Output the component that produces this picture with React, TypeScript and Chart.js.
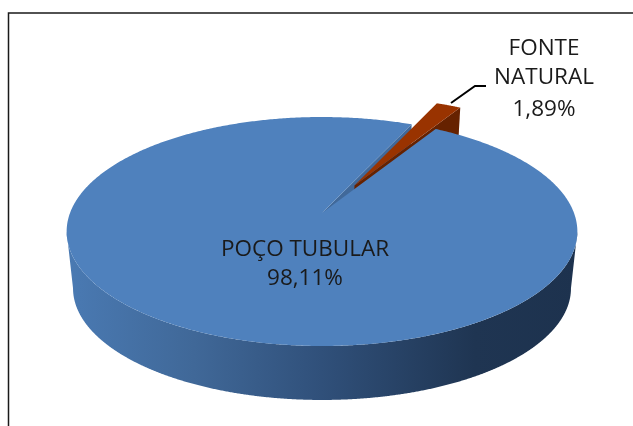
import { useEffect, useRef } from "react";
import { Chart, registerables } from "chart.js";

Chart.register(...registerables);

const categories = ["POÇO TUBULAR", "FONTE NATURAL"];
const seriesValues = [98.11, 1.89];
const valueLabels = ["98,11%", "1,89%"];
const sliceColors = ["#4F81BD", "#993300"];
const FONT = "22.5px 'Open Sans', Lato, sans-serif";
const TEXT = "#1a1a1a";

// Perspective view of the pie's plane
const CX = 322, Y0 = 213, A = 252, B = 111.5, PERSP = 0.1616;
const DEPTH_Y = 57.3, DEPTH_SCALE = 0.975;

type P = [number, number];
function project(u: number, v: number, low: boolean): P {
  const w = 1 - PERSP * v;
  const s = low ? DEPTH_SCALE : 1;
  return [CX + (s * A * u) / w, Y0 + (low ? DEPTH_Y : 0) + (s * B * v) / w];
}
function poly(ctx: CanvasRenderingContext2D, pts: P[]) {
  ctx.beginPath();
  pts.forEach((p, i) => (i ? ctx.lineTo(p[0], p[1]) : ctx.moveTo(p[0], p[1])));
  ctx.closePath();
}
function rim(a0: number, a1: number, ou: number, ov: number, low: boolean, n = 720): P[] {
  const out: P[] = [];
  for (let i = 0; i <= n; i++) {
    const t = a0 + ((a1 - a0) * i) / n;
    out.push(project(ou + Math.cos(t), ov + Math.sin(t), low));
  }
  return out;
}

const pie3d = {
  id: "pie3d",
  beforeDatasetsDraw(chart: any) {
    const ctx: CanvasRenderingContext2D = chart.ctx;
    const arcs = chart.getDatasetMeta(0).data;
    const colors = chart.data.datasets[0].backgroundColor;
    const geom = arcs.map((arc: any) => {
      const { startAngle, endAngle, outerRadius } = arc.getProps(
        ["startAngle", "endAngle", "outerRadius"],
        true
      );
      const mid = (startAngle + endAngle) / 2;
      const d = (arc.options.offset || 0) / outerRadius;
      return { startAngle, endAngle, ou: d * Math.cos(mid), ov: d * Math.sin(mid) };
    });
    const big = geom[0];
    const small = geom[1];
    ctx.save();

    // Blue front wall, from the widest point on the left round the front to the right
    const aL = Math.PI - Math.asin(PERSP);
    const aR = Math.asin(PERSP);
    const topFront = rim(aR, aL, 0, 0, false);
    const lowFront = rim(aL, aR, 0, 0, true);
    const grad = ctx.createLinearGradient(66, 0, 577, 0);
    grad.addColorStop(0, "#4A7AB3");
    grad.addColorStop(0.25, "#406898");
    grad.addColorStop(0.5, "#30507A");
    grad.addColorStop(0.8, "#1F3552");
    grad.addColorStop(1, "#1D324E");
    poly(ctx, [...topFront, ...lowFront]);
    ctx.fillStyle = grad;
    ctx.fill();

    // Inner wall of the blue slice, seen through the gap
    const holeA = small.startAngle;
    poly(ctx, [
      project(0, 0, false),
      project(Math.cos(holeA), Math.sin(holeA), false),
      project(Math.cos(holeA), Math.sin(holeA), true),
      project(0, 0, true),
    ]);
    ctx.fillStyle = "#41699A";
    ctx.fill();

    // Side wall of the pulled-out slice
    const eA = small.endAngle;
    poly(ctx, [
      project(small.ou, small.ov, false),
      project(small.ou + Math.cos(eA), small.ov + Math.sin(eA), false),
      project(small.ou + Math.cos(eA), small.ov + Math.sin(eA), true),
      project(small.ou, small.ov, true),
    ]);
    ctx.fillStyle = "#662200";
    ctx.fill();

    // Top face of the pulled-out slice
    poly(ctx, [
      project(small.ou, small.ov, false),
      ...rim(small.startAngle, small.endAngle, small.ou, small.ov, false, 30),
    ]);
    ctx.fillStyle = colors[1];
    ctx.fill();

    // Top face of the blue slice
    poly(ctx, [project(0, 0, false), ...rim(big.startAngle, big.endAngle, 0, 0, false)]);
    ctx.fillStyle = colors[0];
    ctx.fill();

    ctx.restore();
    return false;
  },
  afterDraw(chart: any) {
    const ctx: CanvasRenderingContext2D = chart.ctx;
    ctx.save();
    // Frame: left and top edges only
    ctx.strokeStyle = "#1a1a1a";
    ctx.lineWidth = 1.5;
    ctx.beginPath();
    ctx.moveTo(8.5, 426);
    ctx.lineTo(8.5, 13);
    ctx.lineTo(633, 13);
    ctx.stroke();
    // Leader line
    ctx.strokeStyle = "#000";
    ctx.lineWidth = 2;
    ctx.beginPath();
    ctx.moveTo(451, 103);
    ctx.lineTo(475, 86);
    ctx.lineTo(486, 86);
    ctx.stroke();
    // Labels
    ctx.fillStyle = TEXT;
    ctx.font = FONT;
    ctx.textAlign = "center";
    ctx.textBaseline = "middle";
    ctx.fillText(categories[0], 305, 250);
    ctx.fillText(valueLabels[0], 305, 279);
    const [w1, w2] = categories[1].split(" ");
    ctx.fillText(w1, 544, 49);
    ctx.fillText(w2, 544, 78);
    ctx.fillText(valueLabels[1], 544, 110);
    ctx.restore();
  },
};

export default function App() {
  const ref = useRef<HTMLCanvasElement>(null);
  useEffect(() => {
    document.body.style.margin = "0";
    document.body.style.overflow = "hidden";
    const chart = new Chart(ref.current!, {
      type: "pie",
      data: {
        labels: categories,
        datasets: [
          {
            data: seriesValues,
            backgroundColor: sliceColors,
            borderWidth: 0,
            offset: [0, 54],
          },
        ],
      },
      options: {
        responsive: false,
        animation: false,
        rotation: 30.9,
        layout: { padding: 0 },
        plugins: { legend: { display: false }, tooltip: { enabled: false } },
      },
      plugins: [pie3d],
    } as any);
    return () => chart.destroy();
  }, []);
  return (
    <canvas
      ref={ref}
      width={633}
      height={426}
      style={{ display: "block", width: 633, height: 426, background: "#fff" }}
    />
  );
}
